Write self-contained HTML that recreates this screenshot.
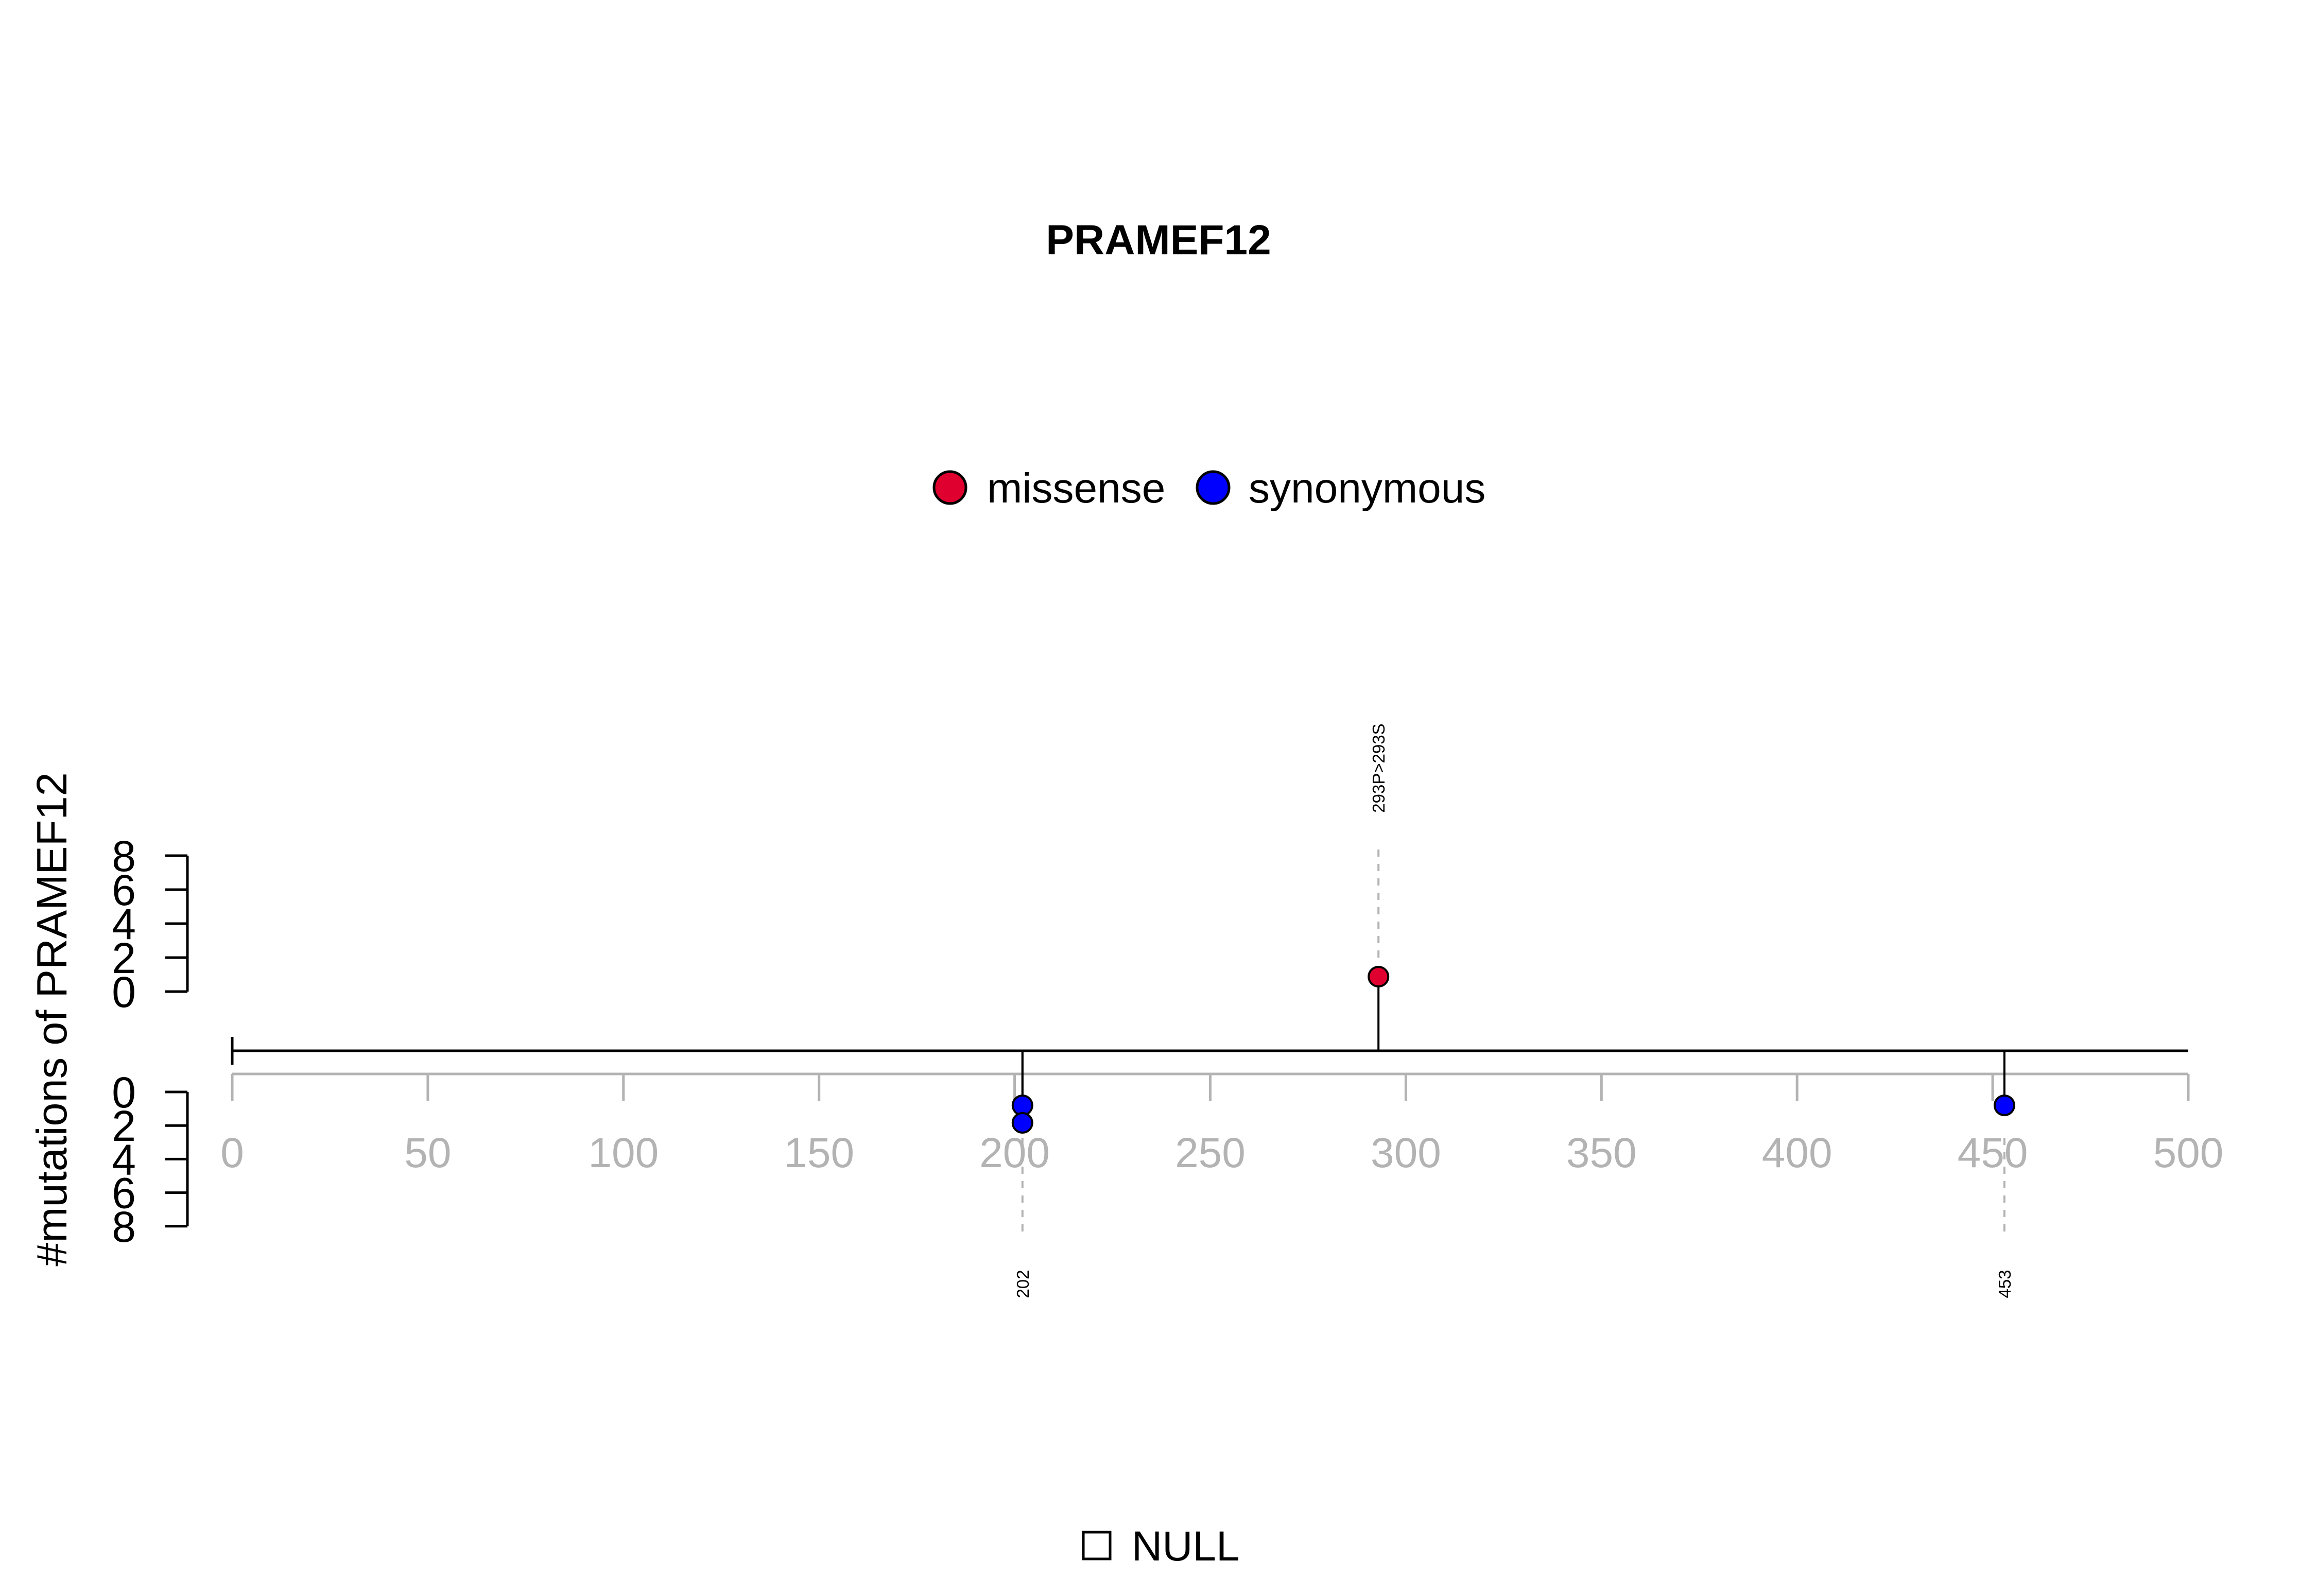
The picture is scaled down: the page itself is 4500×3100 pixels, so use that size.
<!DOCTYPE html>
<html><head><meta charset="utf-8"><style>
html,body{margin:0;padding:0;background:#fff}
svg{display:block}
text{font-family:"Liberation Sans",Arial,sans-serif}
</style></head><body>
<svg id="c" width="4500" height="3100" viewBox="0 0 4500 3100" xmlns="http://www.w3.org/2000/svg">
<text x="2250" y="494" font-size="82" font-weight="bold" text-anchor="middle">PRAMEF12</text>
<g>
<circle cx="1845" cy="947" r="31" fill="#e0002f" stroke="#000" stroke-width="5"/>
<text x="1917" y="976" font-size="82">missense</text>
<circle cx="2356" cy="947" r="31" fill="#0000ff" stroke="#000" stroke-width="5"/>
<text x="2425" y="976" font-size="82">synonymous</text>
</g>
<text transform="translate(129,1980) rotate(-90)" font-size="83" text-anchor="middle">#mutations of PRAMEF12</text>
<g id="g"></g>
<rect x="2104" y="2976" width="52" height="52" fill="none" stroke="#000" stroke-width="5"/>
<text x="2198" y="3031" font-size="82">NULL</text>
</svg>
<script>
const xTicks=[0,50,100,150,200,250,300,350,400,450,500];
const yTicks=[0,2,4,6,8];
const proteinLength=500;
const mutPos=[293,202,202,453];
const mutCount=[1,1,2,1];
const mutSide=["up","down","down","down"];
const mutType=["missense","synonymous","synonymous","synonymous"];
const labelPos=[293,202,453];
const labelText=["293P>293S","202","453"];
const labelSide=["up","down","down"];
const colors={missense:"#e0002f",synonymous:"#0000ff"};
const NS="http://www.w3.org/2000/svg";
const g=document.getElementById('g');
const X=v=>451+v*(4250-451)/500;
const Yup=c=>1926-c*33;
const Ydn=c=>2121+c*32.6;
const Pup=c=>1931-c*34;
const Pdn=c=>2113+c*34;
const BB=2041;
function mk(t,a){const e=document.createElementNS(NS,t);for(const k in a)e.setAttribute(k,a[k]);g.appendChild(e);return e;}
let e=mk('line',{x1:364,x2:364,y1:Yup(8),y2:Yup(0),stroke:'#000','stroke-width':5});


e=mk('line',{x1:364,x2:364,y1:Ydn(0),y2:Ydn(8),stroke:'#000','stroke-width':5});


yTicks.forEach(t=>{
 let l=mk('line',{x1:321,x2:364,y1:Yup(t),y2:Yup(t),stroke:'#000','stroke-width':5});
 
 
 let tx=mk('text',{x:264,y:Yup(t)+30,'font-size':84,'text-anchor':'end'});tx.textContent=t;
 
 
 l=mk('line',{x1:321,x2:364,y1:Ydn(t),y2:Ydn(t),stroke:'#000','stroke-width':5});
 
 
 tx=mk('text',{x:264,y:Ydn(t)+30,'font-size':84,'text-anchor':'end'});tx.textContent=t;
 
 
});
e=mk('line',{x1:X(0),x2:X(500),y1:2086,y2:2086,stroke:'#b3b3b3','stroke-width':5});


xTicks.forEach(t=>{
 let l=mk('line',{x1:X(t),x2:X(t),y1:2086,y2:2138,stroke:'#b3b3b3','stroke-width':5});
 
 
 let tx=mk('text',{x:X(t),y:2267,'font-size':82,'text-anchor':'middle',fill:'#b3b3b3'});tx.textContent=t;
 
 
});
e=mk('line',{x1:X(0),x2:X(proteinLength),y1:BB,y2:BB,stroke:'#000','stroke-width':5});


e=mk('line',{x1:X(0),x2:X(0),y1:BB-27,y2:BB+27,stroke:'#000','stroke-width':5});


labelPos.forEach((p,i)=>{
 const up=labelSide[i]==="up";
 let l=mk('line',{x1:X(p),x2:X(p),y1:up?1650:2210,y2:up?1865:2405,stroke:'#b3b3b3','stroke-width':4,'stroke-dasharray':'14,14'});
 
 
 const ly=up?1492:2494;
 let tx=mk('text',{x:X(p),y:ly,'font-size':33,'text-anchor':'middle',transform:`rotate(-90 ${X(p)} ${ly}) translate(0 12)`});tx.textContent=labelText[i];
 
 
});
mutPos.forEach((p,i)=>{
 const up=mutSide[i]==="up";
 const y=up?Pup(mutCount[i]):Pdn(mutCount[i]);
 let l=mk('line',{x1:X(p),x2:X(p),y1:BB,y2:y,stroke:'#000','stroke-width':4});
 
 
});
mutPos.forEach((p,i)=>{
 const up=mutSide[i]==="up";
 const y=up?Pup(mutCount[i]):Pdn(mutCount[i]);
 let c=mk('circle',{cx:X(p),cy:y,r:19,fill:colors[mutType[i]],stroke:'#000','stroke-width':4});
 
 
});
</script>
</body></html>
